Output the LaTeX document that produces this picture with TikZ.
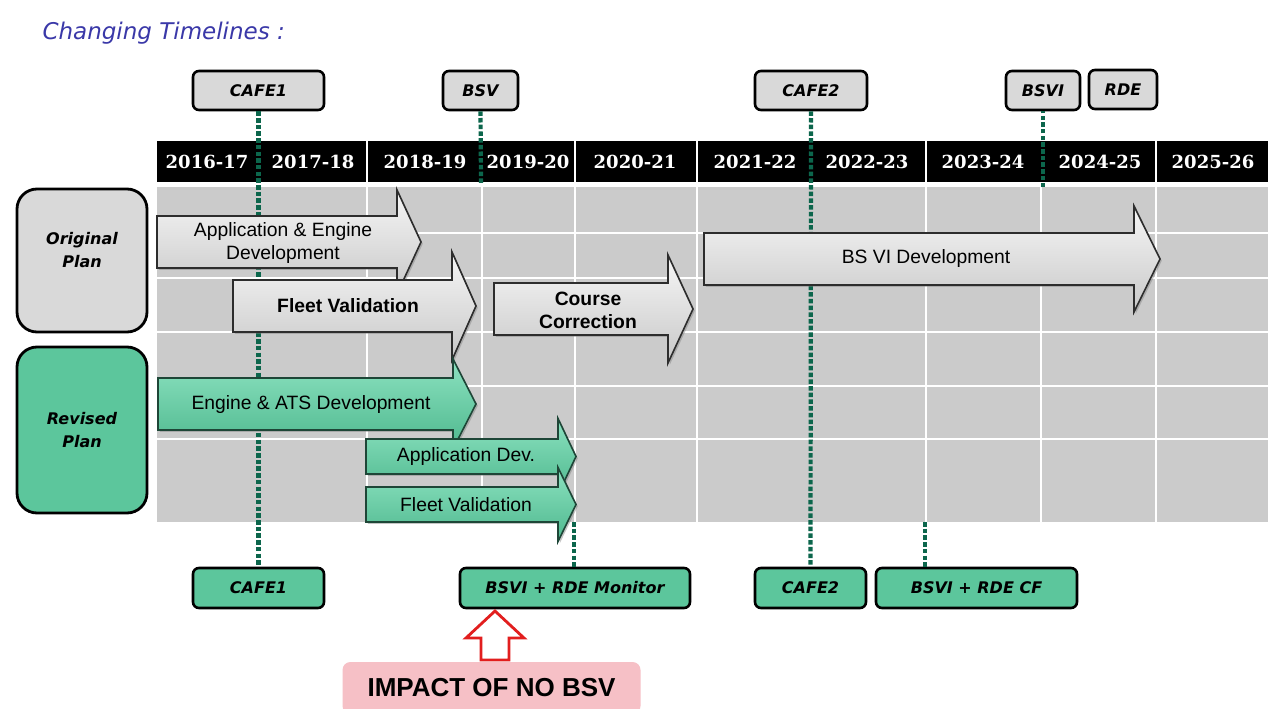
\documentclass[tikz,border=0pt]{standalone}
\usepackage{fontspec}
\setmainfont{Liberation Sans}
\newfontfamily\lblfont{DejaVu Sans}
\newfontfamily\hdrfont{DejaVu Serif}
\usetikzlibrary{shadows}
\definecolor{gridgray}{RGB}{203,203,203}
\definecolor{boxgray}{RGB}{217,217,217}
\definecolor{boxgreen}{RGB}{92,198,156}
\definecolor{dotgreen}{RGB}{12,102,76}
\definecolor{titleblue}{RGB}{58,56,168}
\definecolor{impactpink}{RGB}{246,192,198}
\definecolor{redline}{RGB}{226,30,30}
\tikzset{
  msbox/.style={draw=black, line width=2.6pt, rounded corners=6pt, inner sep=0pt,
    font=\lblfont\bfseries\itshape\fontsize{16}{18}\selectfont},
  mstop/.style={msbox, fill=boxgray},
  msbot/.style={msbox, fill=boxgreen},
  planbox/.style={draw=black, line width=2.8pt, rounded corners=20pt, inner sep=0pt},
  plantext/.style={align=center, font=\lblfont\bfseries\itshape\fontsize{16}{23}\selectfont},
  dotline/.style={dotgreen, line width=4.2pt, dash pattern=on 4.5pt off 2.2pt},
  hdrtext/.style={text=white, font=\hdrfont\bfseries\fontsize{18}{20}\selectfont},
  gline/.style={white, line width=1.5pt},
  garrow/.style={draw={rgb,255:red,45;green,45;blue,45}, line width=1.6pt,
    top color={rgb,255:red,246;green,246;blue,246}, bottom color={rgb,255:red,200;green,200;blue,200},
    drop shadow={shadow xshift=1.8pt, shadow yshift=-1.8pt, opacity=0.45}},
  gnarrow/.style={draw={rgb,255:red,30;green,70;blue,55}, line width=1.6pt,
    top color={rgb,255:red,140;green,226;blue,192}, bottom color={rgb,255:red,78;green,184;blue,142},
    drop shadow={shadow xshift=1.8pt, shadow yshift=-1.8pt, opacity=0.45}},
  atext/.style={align=center, font=\fontsize{19.3}{23}\selectfont},
  abold/.style={atext, font=\bfseries\fontsize{19.3}{23}\selectfont},
}
% #1 style, #2 left, #3 head start, #4 tip, #5 body top, #6 body bottom, #7 centre y, #8 head half height
\newcommand\timearrow[8]{%
  \path[#1] (#2,#5) -- (#3,#5) -- (#3,{#7-#8}) -- (#4,#7) -- (#3,{#7+#8}) -- (#3,#6) -- (#2,#6) -- cycle;}
\begin{document}
\begin{tikzpicture}[x=1pt,y=-1pt]
\useasboundingbox (0,0) rectangle (1271,709);
\fill[white] (0,0) rectangle (1271,709);

% title
\node[anchor=base west, text=titleblue, font=\lblfont\itshape\fontsize{23}{26}\selectfont] (title) at (39,40) {Changing Timelines :};

% grid body
\fill[gridgray] (157,187) rectangle (1268,522);
\foreach \x in {367,482,575,697,926,1041,1156} \draw[gline] (\x,187) -- (\x,522);
\foreach \y in {233,278,332,386,439} \draw[gline] (157,\y) -- (1268,\y);

% header
\fill[black] (157,141) rectangle (1268,182);
\foreach \x in {367,575,697,926,1156} \draw[gline] (\x,141) -- (\x,182);
\foreach \x/\t/\n in {207/2016-17/h1,313/2017-18/h2,425/2018-19/h3,528/2019-20/h4,635/2020-21/h5,
                      755/2021-22/h6,867/2022-23/h7,983/2023-24/h8,1100/2024-25/h9,1213/2025-26/h10}
  \node[hdrtext] (\n) at (\x,161.5) {\t};

% milestone boxes (top)
\node[mstop, minimum width=131pt, minimum height=39pt] (cafe1t) at (258.5,90.5) {CAFE1};
\node[mstop, minimum width=75pt, minimum height=39pt] (bsv) at (480.5,90.5) {BSV};
\node[mstop, minimum width=112pt, minimum height=39pt] (cafe2t) at (811,90.5) {CAFE2};
\node[mstop, minimum width=74pt, minimum height=39pt] (bsvi) at (1043,90.5) {BSVI};
\node[mstop, minimum width=68pt, minimum height=39pt] (rde) at (1123,89.5) {RDE};

% milestone boxes (bottom)
\node[msbot, minimum width=131pt, minimum height=40pt] (cafe1b) at (258.5,588) {CAFE1};
\node[msbot, minimum width=230pt, minimum height=40pt] (mon) at (575,588) {BSVI + RDE Monitor};
\node[msbot, minimum width=111pt, minimum height=40pt] (cafe2b) at (810.5,588) {CAFE2};
\node[msbot, minimum width=201pt, minimum height=40pt] (cf) at (976.5,588) {BSVI + RDE CF};

% dotted connector lines
\coordinate (bsvend) at (481,183);
\coordinate (bsviend) at (1041,187);
\coordinate (monstart) at (574,522);
\coordinate (cfstart) at (925,522);
\draw[dotline] (cafe1t.south) -- (cafe1b.north);
\draw[dotline] (bsv.south) -- (bsvend);
\draw[dotline] (cafe2t.south) -- (cafe2b.north);
\draw[dotline] (bsviend -| bsvi.south) -- (bsvi.south);
\draw[dotline] (monstart) -- (monstart |- mon.north);
\draw[dotline] (cfstart) -- (cfstart |- cf.north);

% original plan arrows
\timearrow{garrow}{157}{397}{421}{216}{268}{242}{52}
\node[atext] (a1) at (283,243) {Application \& Engine\\Development};
\timearrow{garrow}{233}{452}{476}{280}{332}{306}{54}
\node[abold] (a2) at (348,306) {Fleet Validation};
\timearrow{garrow}{494}{668}{693}{283}{335}{309}{54}
\node[abold] (a3) at (588,310) {Course\\Correction};
\timearrow{garrow}{704}{1134}{1160}{233}{285}{259}{53}
\node[atext] (a4) at (926,259) {BS VI Development};

% revised plan arrows
\timearrow{gnarrow}{158}{453}{476}{378}{430}{404}{45}
\node[atext] (a5) at (311,405) {Engine \& ATS Development};
\timearrow{gnarrow}{366}{558}{576}{439}{474}{456.5}{38}
\node[atext] (a6) at (466,457) {Application Dev.};
\timearrow{gnarrow}{366}{558}{576}{487}{522}{504.5}{37}
\node[atext] (a7) at (466,505) {Fleet Validation};

% plan labels
\node[planbox, fill=boxgray, minimum width=130pt, minimum height=143pt] (orig) at (82,260.5) {};
\node[plantext] (origt) at (82,250) {Original\\Plan};
\node[planbox, fill=boxgreen, minimum width=130pt, minimum height=166pt] (rev) at (82,430) {};
\node[plantext] (revt) at (82,430) {Revised\\Plan};

% impact
\node[fill=impactpink, rounded corners=8pt, minimum width=298pt, minimum height=52pt, inner sep=0pt,
      font=\bfseries\fontsize{26}{28}\selectfont] (impact) at (491.5,688) {IMPACT OF NO BSV};
\draw[redline, line width=2.8pt, fill=white, line join=miter]
  (481,660) -- (481,638) -- (466,638) -- (495,611) -- (524,638) -- (509,638) -- (509,660) -- cycle;
\end{tikzpicture}
\end{document}
